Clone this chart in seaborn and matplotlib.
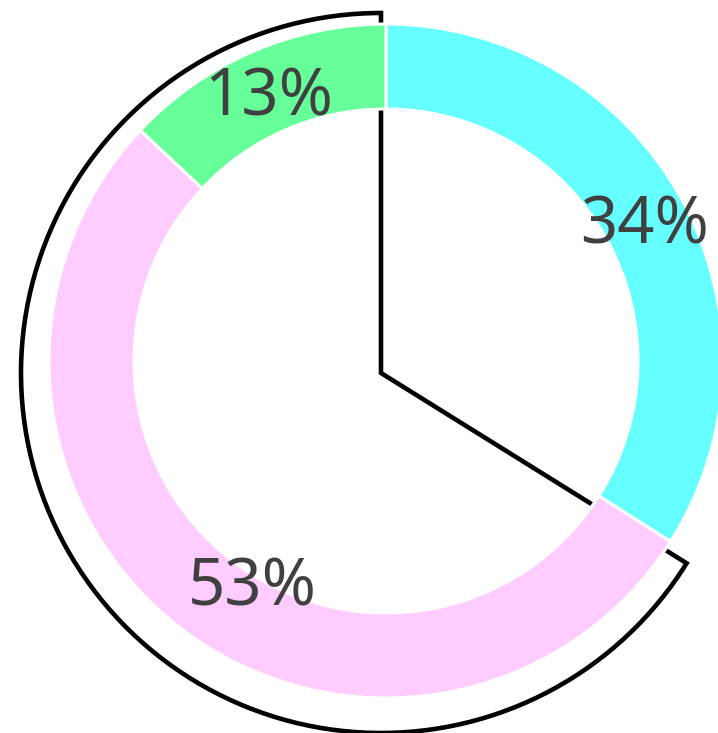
import numpy as np
import matplotlib.pyplot as plt
import seaborn as sns
from matplotlib.patches import Wedge

sns.set_theme(style="white")
plt.rcParams['font.family'] = ['Noto Sans', 'DejaVu Sans']

# dữ liệu
labels = ['A', 'B', 'C']
shares = [34, 53, 13]
colors = ['#66ffff', '#ffccff', '#66ff99']
selected = [1, 2]  # các lát được chọn (viền đen)

fig = plt.figure(figsize=(7.18, 7.33), dpi=100)
ax = fig.add_axes([0, 0, 1, 1])

center = (386, 372)
radius = 337
ring = 85

# viền của phần được chọn, hơi lệch khỏi tâm
total = sum(shares)
start_sel = 90 - 360 * sum(shares[:selected[0]]) / total
end_sel = start_sel - 360 * sum(shares[i] for i in selected) / total
outline = Wedge((381, 360), 360, end_sel + 360, start_sel + 0.5, fill=False,
                edgecolor='black', linewidth=3.3, joinstyle='miter', zorder=0.5)
ax.add_patch(outline)

wedges, texts, autotexts = ax.pie(
    shares, colors=colors, startangle=90, counterclock=False,
    radius=radius, center=center, autopct='%1.0f%%', pctdistance=0.875,
    wedgeprops=dict(width=ring, edgecolor='white', linewidth=2.2),
    textprops=dict(fontsize=47, color='#404040'))

# nhãn 53% nằm lệch một chút so với giữa lát
x, y = autotexts[1].get_position()
ang = np.arctan2(y - center[1], x - center[0]) + np.deg2rad(7)
autotexts[1].set_position((center[0] + 260 * np.cos(ang), center[1] + 260 * np.sin(ang) + 4))

# hạ nhãn xuống một chút
for t in autotexts:
    x, y = t.get_position()
    t.set_position((x, y - 8))

ax.set_xlim(0, 718)
ax.set_ylim(0, 733)
ax.set_aspect('equal')
ax.axis('off')

plt.savefig('out.png', dpi=100)
plt.close()
